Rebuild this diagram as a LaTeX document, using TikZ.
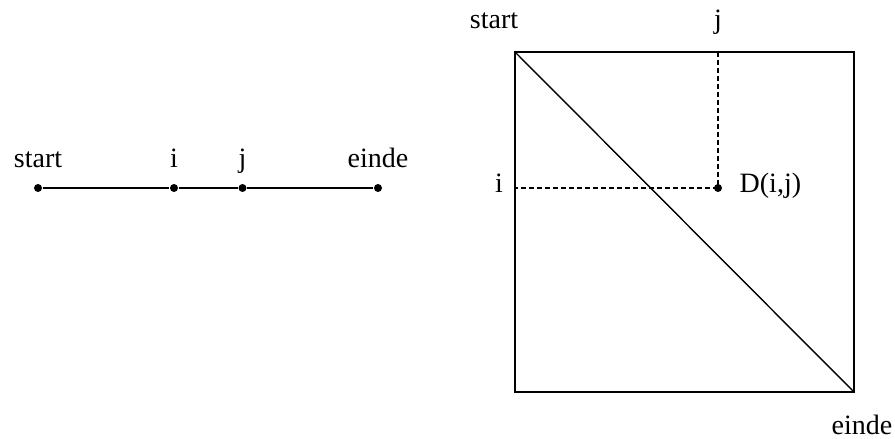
\documentclass[tikz,border=0pt]{standalone}
\usepackage{fontspec}
\setmainfont{Liberation Serif}
\begin{document}
\begin{tikzpicture}[x=1pt,y=-1pt,
  lbl/.style={font=\fontsize{28}{34}\selectfont, inner sep=0pt, anchor=base},
  dot/.style={circle, fill, inner sep=0pt, minimum size=8pt},
  line width=1.4pt]
\useasboundingbox (0,0) rectangle (895,439);
% left line
\node[dot] (s) at (38,188) {};
\node[dot] (i) at (174,188) {};
\node[dot] (j) at (242.5,188) {};
\node[dot] (e) at (378,188) {};
\draw (s) -- (i) -- (j) -- (e);
\node[lbl] (ls) at (38,167) {start};
\node[lbl] (li) at (174,167) {i};
\node[lbl] (lj) at (242.5,167) {j};
\node[lbl] (le) at (378,167) {einde};
% square
\coordinate (tl) at (515,52);
\coordinate (br) at (854,392);
\draw (tl) rectangle (br);
\draw (tl) -- (br);
\coordinate (tj) at (718,52);
\coordinate (ri) at (515,188);
\node[dot] (d) at (718,188) {};
\draw[dashed, dash pattern=on 5pt off 3pt] (tj) -- (d.center) -- (ri);
\node[lbl] (s2) at (494,28) {start};
\node[lbl] (j2) at (718,28) {j};
\node[lbl] (i2) at (499,192) {i};
\node[lbl, anchor=base west] (dl) at (739,192) {D(i,j)};
\node[lbl] (e2) at (862,434) {einde};
\end{tikzpicture}
\end{document}
